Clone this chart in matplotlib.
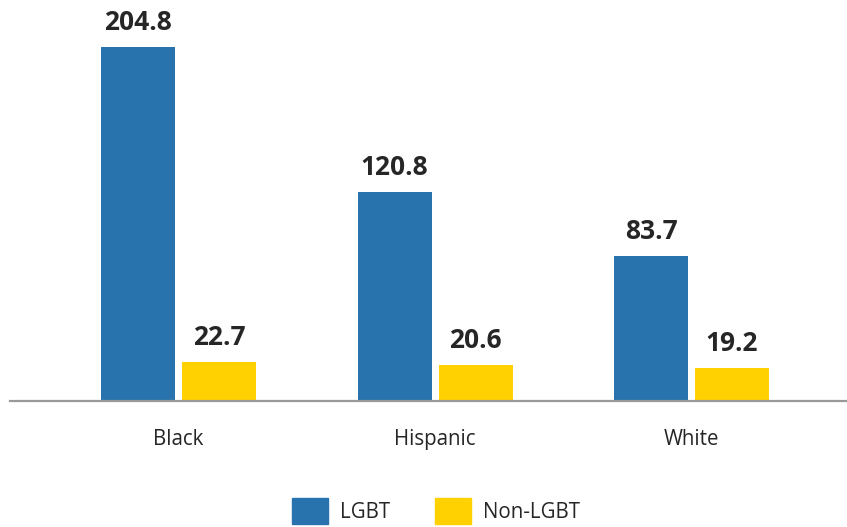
import matplotlib.pyplot as plt
import numpy as np

categories = ["Black", "Hispanic", "White"]
series_names = ["LGBT", "Non-LGBT"]
lgbt = [204.8, 120.8, 83.7]
non_lgbt = [22.7, 20.6, 19.2]
colors = ["#2873AE", "#FFD100"]

W, H = 847, 527
fig = plt.figure(figsize=(W / 100, H / 100), dpi=100)
base_px = 401
ax = fig.add_axes([0, (H - base_px) / H, 1, base_px / H])

px_per_cat = 256.5
center0 = 178.5
x0 = (0 - center0) / px_per_cat
x1 = (W - center0) / px_per_cat
ax.set_xlim(x0, x1)
px_per_unit = 354 / 204.8
ax.set_ylim(0, base_px / px_per_unit)

x = np.arange(len(categories))
bw = 74 / px_per_cat
off = 40.5 / px_per_cat
txt = "#262626"
for vals, o, c in [(lgbt, -off, colors[0]), (non_lgbt, off, colors[1])]:
    ax.bar(x + o, vals, width=bw, color=c, zorder=2)
    for xi, v in zip(x + o, vals):
        ax.annotate(f"{v:.1f}", (xi, v), xytext=(0, 8), textcoords="offset points",
                    ha="center", va="bottom", fontsize=19, fontweight="bold",
                    family="Open Sans", color=txt)

ax.axhline(0, xmin=(10 / W), xmax=1, color="#999999", lw=1.6, zorder=3, clip_on=False)
for s in ax.spines.values():
    s.set_visible(False)
ax.set_yticks([])
ax.set_xticks([])
for xi, cat in zip(x, categories):
    ax.annotate(cat, (xi, 0), xytext=(0, -28), textcoords="offset points",
                ha="center", va="center", fontsize=14.8, family="Open Sans",
                color=txt, annotation_clip=False)

from matplotlib.patches import Patch
handles = [Patch(color=colors[0], label=series_names[0]), Patch(color=colors[1], label=series_names[1])]
fs = 14.8
fs_px = fs * 100 / 72
leg = fig.legend(handles=handles, loc="center left",
                 bbox_to_anchor=(292 / W, (H - 511) / H), ncol=2, frameon=False,
                 prop={"family": "Open Sans", "size": fs},
                 handlelength=36 / fs_px, handleheight=33 / fs_px,
                 handletextpad=12 / fs_px, columnspacing=45 / fs_px,
                 borderpad=0, borderaxespad=0)
for t in leg.get_texts():
    t.set_color(txt)

fig.savefig("out.png", dpi=100)
